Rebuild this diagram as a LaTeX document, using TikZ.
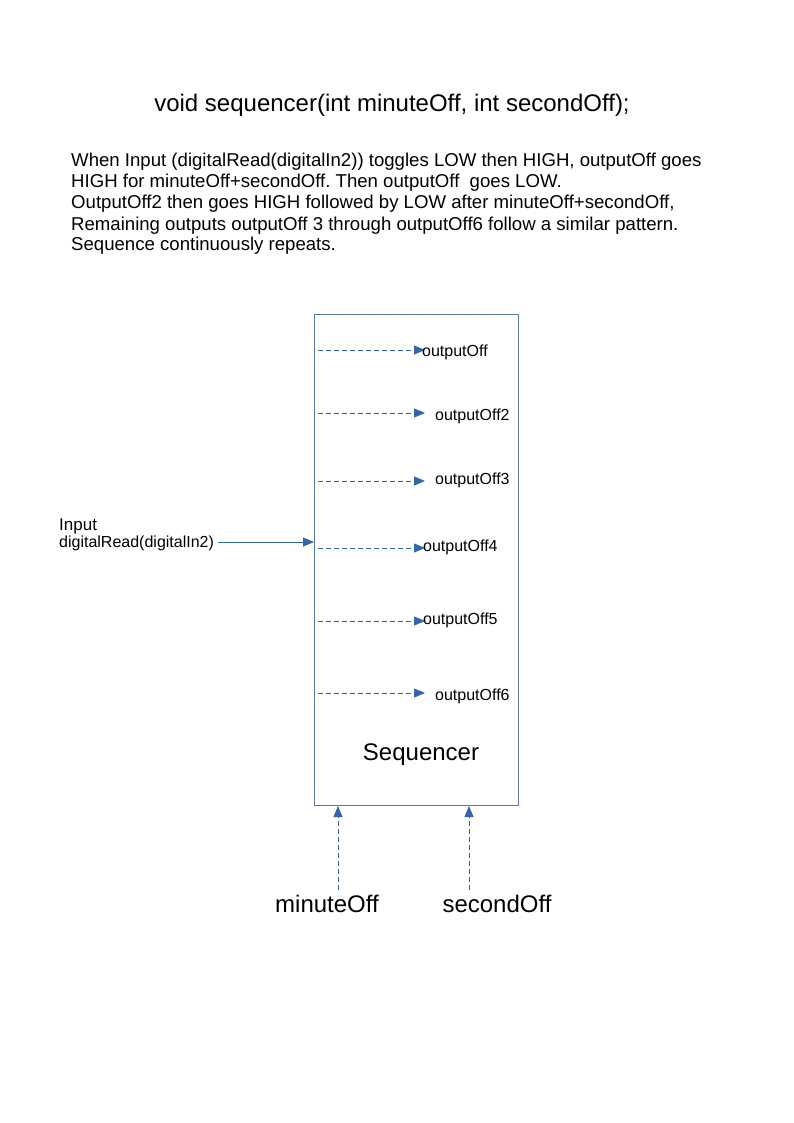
\documentclass[tikz,border=0pt]{standalone}
\usepackage{fontspec}
\setmainfont{Liberation Sans}
\usetikzlibrary{arrows.meta}
\frenchspacing
\definecolor{lblue}{HTML}{3465A4}
\definecolor{boxc}{HTML}{5B7BA3}
\tikzset{
  txt/.style={inner sep=0pt, anchor=base west},
  body/.style={txt, font=\fontsize{18.6}{21}\selectfont},
  outlbl/.style={inner sep=0pt, anchor=west, font=\fontsize{16}{18}\selectfont},
  dasharrow/.style={draw=lblue, line width=0.8pt, dash pattern=on 5pt off 3pt, -{Triangle[length=11pt,width=9pt]}},
  solidarrow/.style={draw=lblue, line width=0.8pt, -{Triangle[length=11pt,width=9pt]}},
}
\begin{document}
\begin{tikzpicture}[x=1pt,y=-1pt]
\useasboundingbox[fill=white] (0,0) rectangle (794,1123);
% title
\node[inner sep=0pt, anchor=base, font=\fontsize{24}{28}\selectfont] (title) at (392,112) {void sequencer(int minuteOff, int secondOff);};
% description
\node[body] (l1) at (71,167) {When Input (digitalRead(digitalIn2)) toggles LOW then HIGH, outputOff goes};
\node[body] (l2) at (71,188) {HIGH for minuteOff+secondOff. Then outputOff\ \ goes LOW.};
\node[body] (l3) at (71,209) {OutputOff2 then goes HIGH followed by LOW after minuteOff+secondOff,};
\node[body] (l4) at (71,230) {Remaining outputs outputOff 3 through outputOff6 follow a similar pattern.};
\node[body] (l5) at (71,251) {Sequence continuously repeats.};
% box
\node[draw=boxc, line width=0.8pt, minimum width=204pt, minimum height=491pt, inner sep=0pt] (seq) at (416,559.5) {};
\node[inner sep=0pt, font=\fontsize{24}{28}\selectfont] (seqlbl) at (421,755) {Sequencer};
% outputs
\coordinate (s1) at (318,350); \coordinate (t1) at (425,350);
\coordinate (s2) at (318,413); \coordinate (t2) at (425,413);
\coordinate (s3) at (318,481); \coordinate (t3) at (425,481);
\coordinate (s4) at (318,548); \coordinate (t4) at (425,548);
\coordinate (s5) at (318,621); \coordinate (t5) at (425,621);
\coordinate (s6) at (318,693); \coordinate (t6) at (425,693);
\draw[dasharrow] (s1) -- (t1);
\draw[dasharrow] (s2) -- (t2);
\draw[dasharrow] (s3) -- (t3);
\draw[dasharrow] (s4) -- (t4);
\draw[dasharrow] (s5) -- (t5);
\draw[dasharrow] (s6) -- (t6);
\node[outlbl] (o1) at (422,352) {outputOff};
\node[outlbl] (o2) at (435,416) {outputOff2};
\node[outlbl] (o3) at (435,480) {outputOff3};
\node[outlbl] (o4) at (423,547) {outputOff4};
\node[outlbl] (o5) at (423,620) {outputOff5};
\node[outlbl] (o6) at (435,696) {outputOff6};
% input
\node[txt, font=\fontsize{17}{20}\selectfont] (inp) at (59,530) {Input};
\node[txt, font=\fontsize{16}{18}\selectfont] (dr) at (59,547) {digitalRead(digitalIn2)};
\coordinate (inEnd) at (314,542);
\draw[solidarrow] ([xshift=4pt]dr.east |- inEnd) -- (inEnd);
% bottom inputs
\node[inner sep=0pt, anchor=base, font=\fontsize{24}{28}\selectfont] (mo) at (327,912) {minuteOff};
\node[inner sep=0pt, anchor=base, font=\fontsize{24}{28}\selectfont] (so) at (497,912) {secondOff};
\coordinate (m0) at (338,890); \coordinate (m1) at (338,806);
\coordinate (c0) at (469,890); \coordinate (c1) at (469,806);
\draw[dasharrow] (m0) -- (m1);
\draw[dasharrow] (c0) -- (c1);
\end{tikzpicture}
\end{document}
